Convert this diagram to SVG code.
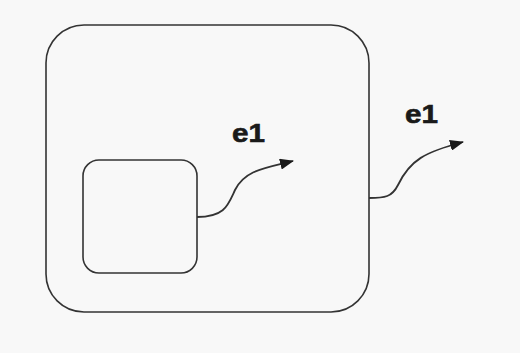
<svg xmlns="http://www.w3.org/2000/svg" width="520" height="353" viewBox="0 0 520 353">
<style>
.st{fill:none;stroke:#333;stroke-width:1.6}
.ed{fill:none;stroke:#333;stroke-width:1.8}
.lb{font-family:"Liberation Sans",Arial,sans-serif;font-weight:bold;font-size:25px;fill:#1a1a1a;stroke:#1a1a1a;stroke-width:0.6}
</style>
<defs>
<marker id="ah" viewBox="0 0 14 11" refX="13" refY="5.5" markerWidth="14" markerHeight="11" markerUnits="userSpaceOnUse" orient="auto">
<path d="M0,0 L14,5.5 L0,11 z" fill="#1a1a1a"/>
</marker>
</defs>
<rect width="520" height="353" fill="#f8f8f8"/>
<g id="outer"><rect class="st" x="46" y="25" width="323" height="287" rx="38" ry="38"/></g>
<g id="inner"><rect class="st" x="83" y="160" width="114" height="113" rx="16" ry="16"/></g>
<g id="connectors">
<path class="ed" d="M197,217 C225,217 228,205 235,190 C245,170 265,168 293,161" marker-end="url(#ah)"/>
<path class="ed" d="M369,198 C385,198 392,197 398,185 C410,160 425,152 463,142" marker-end="url(#ah)"/>
<text class="lb" x="232" y="142" textLength="33" lengthAdjust="spacingAndGlyphs">e1</text>
<text class="lb" x="405" y="123" textLength="33" lengthAdjust="spacingAndGlyphs">e1</text>
</g>
</svg>
